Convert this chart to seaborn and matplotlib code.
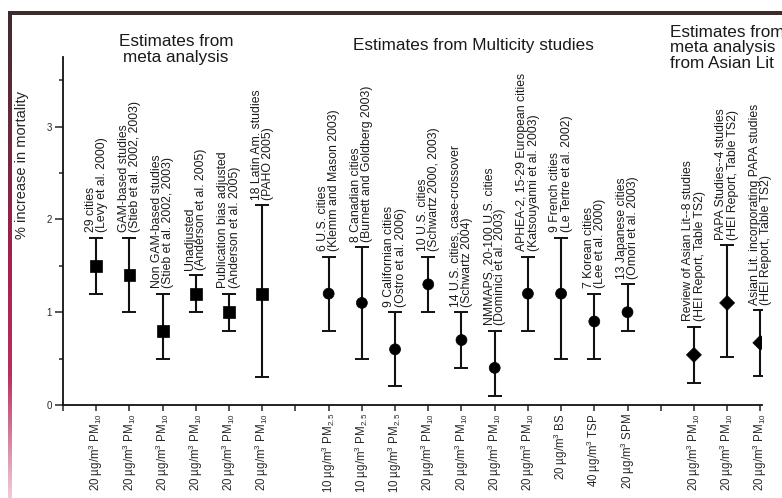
import numpy as np
import pandas as pd
import matplotlib
matplotlib.use("Agg")
import matplotlib.pyplot as plt
from matplotlib.colors import LinearSegmentedColormap
from matplotlib.patches import Rectangle
import seaborn as sns

sns.set_theme(style="ticks")
plt.rcParams["font.family"] = ["Liberation Sans", "DejaVu Sans"]
plt.rcParams["mathtext.fontset"] = "custom"
plt.rcParams["mathtext.rm"] = "Liberation Sans"
plt.rcParams["mathtext.it"] = "Liberation Sans:italic"
plt.rcParams["mathtext.bf"] = "Liberation Sans:bold"

# --- datos ---
grupos = ["meta", "multicity", "asian"]
titulos = ["Estimates from\nmeta analysis",
           "Estimates from Multicity studies",
           "Estimates from\nmeta analysis\nfrom Asian Lit"]

estudios = [
    "29 cities\n(Levy et al. 2000)",
    "GAM-based studies\n(Stieb et al. 2002, 2003)",
    "Non GAM-based studies\n(Stieb et al. 2002, 2003)",
    "Unadjusted\n(Anderson et al. 2005)",
    "Publication bias adjusted\n(Anderson et al. 2005)",
    "18 Latin Am. studies\n(PAHO 2005)",
    "6 U.S. cities\n(Klemm and Mason 2003)",
    "8 Canadian cities\n(Burnett and Goldberg 2003)",
    "9 Californian cities\n(Ostro et al. 2006)",
    "10 U.S. cities\n(Schwartz 2000, 2003)",
    "14 U.S. cities, case-crossover\n(Schwartz 2004)",
    "NMMAPS, 20-100 U.S. cities\n(Dominici et al. 2003)",
    "APHEA-2, 15-29 European cities\n(Katsouyanni et al. 2003)",
    "9 French cities\n(Le Tertre et al. 2002)",
    "7 Korean cities\n(Lee et al. 2000)",
    "13 Japanese cities\n(Omori et al. 2003)",
    "Review of Asian Lit--8 studies\n(HEI Report, Table TS2)",
    "PAPA Studies--4 studies\n(HEI Report, Table TS2)",
    "Asian Lit. incorporating PAPA studies\n(HEI Report, Table TS2)",
]
grupo = ["meta"] * 6 + ["multicity"] * 10 + ["asian"] * 3

pm10 = r"20 µg/m$^{3}$ PM$_{10}$"
pm25 = r"10 µg/m$^{3}$ PM$_{2.5}$"
exposicion = [pm10] * 6 + [pm25] * 3 + [pm10] * 4 + [
    r"20 µg/m$^{3}$ BS", r"40 µg/m$^{3}$ TSP", r"20 µg/m$^{3}$ SPM",
    pm10, pm10, pm10]

estimado = [1.5, 1.4, 0.8, 1.2, 1.0, 1.2,
            1.2, 1.1, 0.6, 1.3, 0.7, 0.4, 1.2, 1.2, 0.9, 1.0,
            0.54, 1.1, 0.67]
ic_inf = [1.2, 1.0, 0.5, 1.0, 0.8, 0.3,
          0.8, 0.5, 0.2, 1.0, 0.4, 0.1, 0.8, 0.5, 0.5, 0.8,
          0.24, 0.52, 0.31]
ic_sup = [1.8, 1.8, 1.2, 1.4, 1.2, 2.15,
          1.6, 1.7, 1.0, 1.6, 1.0, 0.8, 1.6, 1.8, 1.2, 1.3,
          0.84, 1.72, 1.02]

df = pd.DataFrame({"estudio": estudios, "grupo": grupo, "exposicion": exposicion,
                   "est": estimado, "lo": ic_inf, "hi": ic_sup})
# posicion: orden dentro de la figura + un hueco entre grupos
df["pos"] = np.arange(len(df)) + 1 + df["grupo"].map({g: i for i, g in enumerate(grupos)})

fig = plt.figure(figsize=(7.82, 4.98), dpi=100)
ax = fig.add_axes([63 / 782, 1 - 405 / 498, 699 / 782, 348 / 498])

ax.errorbar(df["pos"], df["est"], yerr=[df["est"] - df["lo"], df["hi"] - df["est"]],
            fmt="none", ecolor="#111111", elinewidth=1.5, capsize=5, capthick=1.4, zorder=2)
sns.scatterplot(data=df, x="pos", y="est", style="grupo", size="grupo",
                markers={"meta": "s", "multicity": "o", "asian": "D"},
                sizes={"meta": 72, "multicity": 62, "asian": 58},
                color="black", edgecolor="black", linewidth=0.5,
                legend=False, ax=ax, zorder=3)

for _, r in df.iterrows():
    ax.text(r["pos"], r["hi"] + 0.06, r["estudio"], rotation=90, ha="center", va="bottom",
            multialignment="left", fontsize=8.8, linespacing=0.92, color="#1a1a1a")

# titulos de grupo
centros = df.groupby("grupo", sort=False)["pos"].mean()
ax.text(centros["meta"] - 0.1, 3.83, titulos[0], ha="center", va="center",
        fontsize=12.3, linespacing=1.05, color="#1a1a1a", clip_on=False)
ax.text(centros["multicity"] - 0.15, 3.87, titulos[1], ha="center", va="center",
        fontsize=12.3, color="#1a1a1a", clip_on=False)
ax.text(18.28, 4.1, titulos[2], ha="left", va="top",
        fontsize=12.3, linespacing=1.05, color="#1a1a1a", clip_on=False)

# ejes
ticks = np.arange(0, df["pos"].max() + 1)
etiquetas = dict(zip(df["pos"], df["exposicion"]))
ax.set_xticks(ticks)
ax.set_xticklabels([etiquetas.get(t, "") for t in ticks], rotation=90, fontsize=8.3)
ax.set_xlim(0, 21.05)
ax.set_ylim(0, 3.75)
ax.set_yticks([0, 1, 2, 3])
ax.set_yticklabels(["0", "1", "2", "3"], fontsize=7)
ax.set_yticks([0.5, 1.5, 2.5, 3.5], minor=True)
ax.tick_params(axis="y", which="major", length=6, width=1.1, pad=2)
ax.tick_params(axis="y", which="minor", length=3, width=1.1)
ax.tick_params(axis="x", length=4.5, width=1.1, pad=1.5)
ax.set_xlabel("")
ax.set_ylabel("% increase in mortality", fontsize=10.5)
ax.yaxis.set_label_coords(-0.048, 0.69)
for s in ["top", "right"]:
    ax.spines[s].set_visible(False)
for s in ["left", "bottom"]:
    ax.spines[s].set_linewidth(1.3)
    ax.spines[s].set_color("#111111")

# marco de la diapositiva: barra superior y franja lateral degradada
fig.patches.append(Rectangle((8 / 782, 1 - 15 / 498), 1, 4 / 498, transform=fig.transFigure,
                             facecolor="#3e2c2c", edgecolor="none"))
franja = fig.add_axes([8 / 782, 0, 4 / 782, 1 - 11 / 498])
cmap = LinearSegmentedColormap.from_list("franja", ["#3e2c2c", "#6a2a3a", "#a3204c",
                                                    "#b8305e", "#f2ccd8"])
franja.imshow(np.linspace(0, 1, 256).reshape(-1, 1), aspect="auto", cmap=cmap)
franja.axis("off")

fig.savefig("out.png", dpi=100)
